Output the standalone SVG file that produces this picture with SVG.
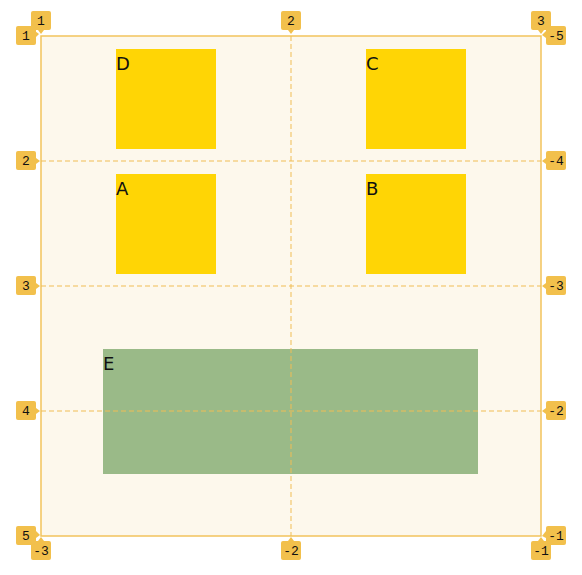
<svg xmlns="http://www.w3.org/2000/svg" width="582" height="575" viewBox="0 0 582 575">
<style>
.grid{fill:#fdf8ec;stroke:#f2c35c;stroke-width:1.5}
.gl{stroke:#f0bd55;stroke-width:1;stroke-dasharray:5 3;fill:none}
.item{fill:#ffd505}
.itemE{fill:#9aba88}
.lbl{font-family:"DejaVu Sans",sans-serif;font-size:18px;fill:#111}
.badge rect,.badge path{fill:#f2c04c}
.badge text{font-family:"Liberation Mono","DejaVu Sans Mono",monospace;font-size:13px;fill:#111;text-anchor:middle}
</style>
<g id="container"><rect class="grid" x="41" y="36" width="500" height="500"/></g>
<g id="D"><rect class="item" x="116" y="49" width="100" height="100"/><text class="lbl" x="116" y="70">D</text></g>
<g id="C"><rect class="item" x="366" y="49" width="100" height="100"/><text class="lbl" x="366" y="70">C</text></g>
<g id="A"><rect class="item" x="116" y="174" width="100" height="100"/><text class="lbl" x="116" y="195">A</text></g>
<g id="B"><rect class="item" x="366" y="174" width="100" height="100"/><text class="lbl" x="366" y="195">B</text></g>
<g id="E"><rect class="itemE" x="103" y="349" width="375" height="125"/><text class="lbl" x="103" y="370">E</text></g>
<g id="connectors">
<line class="gl" x1="291" y1="36" x2="291" y2="536"/>
<line class="gl" x1="41" y1="161" x2="541" y2="161"/>
<line class="gl" x1="41" y1="286" x2="541" y2="286"/>
<line class="gl" x1="41" y1="411" x2="541" y2="411"/>
</g>
<g id="badges" class="badge">
<g><rect x="31" y="11" width="20" height="19" rx="2"/><path d="M38 30 L41 34 L44 30Z"/><text x="41" y="25">1</text></g>
<g><rect x="281" y="11" width="20" height="19" rx="2"/><path d="M288 30 L291 34 L294 30Z"/><text x="291" y="25">2</text></g>
<g><rect x="531" y="11" width="20" height="19" rx="2"/><path d="M538 30 L541 34 L544 30Z"/><text x="541" y="25">3</text></g>
<g><rect x="16" y="26" width="20" height="19" rx="2"/><path d="M35 31 L39 34 L36 37Z"/><text x="26" y="40">1</text></g>
<g><rect x="16" y="151" width="20" height="19" rx="2"/><path d="M36 158 L40 161 L36 164Z"/><text x="26" y="165">2</text></g>
<g><rect x="16" y="276" width="20" height="19" rx="2"/><path d="M36 283 L40 286 L36 289Z"/><text x="26" y="290">3</text></g>
<g><rect x="16" y="401" width="20" height="19" rx="2"/><path d="M36 408 L40 411 L36 414Z"/><text x="26" y="415">4</text></g>
<g><rect x="16" y="526" width="20" height="19" rx="2"/><path d="M36 531 L40 535 L36 538Z"/><text x="26" y="540">5</text></g>
<g><rect x="546" y="26" width="20" height="19" rx="2"/><path d="M546 31 L542 35 L546 38Z"/><text x="556" y="40">-5</text></g>
<g><rect x="546" y="151" width="20" height="19" rx="2"/><path d="M546 158 L542 161 L546 164Z"/><text x="556" y="165">-4</text></g>
<g><rect x="546" y="276" width="20" height="19" rx="2"/><path d="M546 283 L542 286 L546 289Z"/><text x="556" y="290">-3</text></g>
<g><rect x="546" y="401" width="20" height="19" rx="2"/><path d="M546 408 L542 411 L546 414Z"/><text x="556" y="415">-2</text></g>
<g><rect x="546" y="526" width="20" height="19" rx="2"/><path d="M546 531 L542 536 L546 538Z"/><text x="556" y="540">-1</text></g>
<g><rect x="31" y="541" width="20" height="19" rx="2"/><path d="M38 541 L41 537 L44 541Z"/><text x="41" y="555">-3</text></g>
<g><rect x="281" y="541" width="20" height="19" rx="2"/><path d="M288 541 L291 537 L294 541Z"/><text x="291" y="555">-2</text></g>
<g><rect x="531" y="541" width="20" height="19" rx="2"/><path d="M538 541 L541 537 L544 541Z"/><text x="541" y="555">-1</text></g>
</g>
</svg>
